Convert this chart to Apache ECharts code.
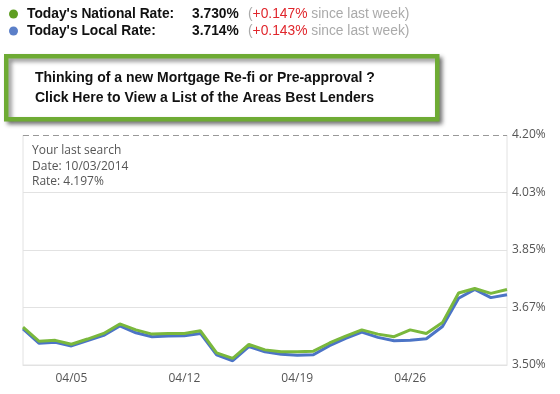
<!DOCTYPE html>
<html>
<head>
<meta charset="utf-8">
<script src="https://cdn.jsdelivr.net/npm/echarts@6/dist/echarts.min.js"></script>
<style>
html,body{margin:0;padding:0;background:#fff;}
#chart{width:560px;height:394px;}
</style>
</head>
<body>
<div id="chart"></div>
<script>
const dates = ['04/02','04/03','04/04','04/05','04/06','04/07','04/08','04/09','04/10','04/11','04/12','04/13','04/14','04/15','04/16','04/17','04/18','04/19','04/20','04/21','04/22','04/23','04/24','04/25','04/26','04/27','04/28','04/29','04/30','05/01','05/02'];
const nationalRate = [3.615,3.572,3.575,3.563,3.579,3.596,3.625,3.607,3.594,3.596,3.596,3.604,3.537,3.520,3.563,3.546,3.540,3.540,3.542,3.567,3.588,3.607,3.594,3.586,3.607,3.596,3.629,3.719,3.733,3.718,3.730];
const localRate = [3.610,3.566,3.569,3.558,3.574,3.590,3.619,3.598,3.586,3.588,3.589,3.596,3.531,3.513,3.556,3.540,3.533,3.530,3.531,3.559,3.581,3.600,3.584,3.574,3.575,3.580,3.617,3.703,3.730,3.705,3.714];
const yTickLabels = ['3.50%','3.67%','3.85%','4.03%','4.20%'];
const xTickLabels = ['04/05','04/12','04/19','04/26'];
const legendInfo = {
  national: {label: "Today's National Rate:", rate: '3.730%', change: '+0.147%'},
  local: {label: "Today's Local Rate:", rate: '3.714%', change: '+0.143%'}
};
const lastSearch = ['Your last search', 'Date: 10/03/2014', 'Rate: 4.197%'];
const bannerLines = ['Thinking of a new Mortgage Re-fi or Pre-approval ?', 'Click Here to View a List of the Areas Best Lenders'];

const Y_MIN = 3.5, Y_MAX = 4.2, Y_INT = 0.175;
const GREEN = '#7ab83c', BLUE = '#4c74c6';
const HF = 13.8;

const chart = echarts.init(document.getElementById('chart'), null, {renderer: 'canvas'});
chart.setOption({
  animation: false,
  backgroundColor: '#fff',
  legend: {
    orient: 'vertical',
    left: 4,
    top: 2,
    itemWidth: 9,
    itemHeight: 9,
    itemGap: 3,
    icon: 'circle',
    selectedMode: false,
    data: [
      {name: 'National', itemStyle: {color: '#5f9e22'}},
      {name: 'Local', itemStyle: {color: '#5b7fc8'}}
    ],
    formatter: function (name) {
      const info = name === 'National' ? legendInfo.national : legendInfo.local;
      return '{s|}{n|' + info.label + '}{v|' + info.rate + '}{p|(}{r|' + info.change + '}{p| since last week)}';
    },
    textStyle: {
      rich: {
        s: {width: 4},
        n: {width: 165, fontFamily: 'Liberation Sans', fontWeight: 'bold', fontSize: HF, color: '#111'},
        v: {width: 56, fontFamily: 'Liberation Sans', fontWeight: 'bold', fontSize: HF, color: '#111'},
        p: {fontFamily: 'Liberation Sans', fontSize: HF, color: '#aaa'},
        r: {fontFamily: 'Liberation Sans', fontSize: HF, color: '#e0262c'}
      }
    }
  },
  grid: {
    left: 23, right: 53, top: 135, bottom: 29,
    show: true, borderColor: '#e2e2e2', borderWidth: 1
  },
  xAxis: {
    type: 'category',
    data: dates,
    boundaryGap: false,
    axisLine: {show: true, lineStyle: {color: '#e2e2e2'}},
    axisTick: {show: false},
    axisLabel: {
      interval: function (i, v) { return xTickLabels.indexOf(v) >= 0; },
      color: '#555', fontFamily: 'Open Sans', fontSize: 12, margin: 8
    },
    splitLine: {show: false}
  },
  yAxis: {
    type: 'value',
    position: 'right',
    min: Y_MIN, max: Y_MAX, interval: Y_INT,
    axisLine: {show: false},
    axisTick: {show: false},
    axisLabel: {
      formatter: function (v) { return yTickLabels[Math.round((v - Y_MIN) / Y_INT)]; },
      color: '#555', fontFamily: 'Open Sans', fontSize: 12, margin: 5
    },
    splitLine: {show: true, lineStyle: {color: '#e2e2e2', width: 1}}
  },
  series: [
    {
      name: 'Local', type: 'line', data: localRate, symbol: 'none',
      lineStyle: {color: BLUE, width: 3}, itemStyle: {color: BLUE}, z: 3
    },
    {
      name: 'National', type: 'line', data: nationalRate, symbol: 'none',
      lineStyle: {color: GREEN, width: 3}, itemStyle: {color: GREEN}, z: 4,
      markLine: {
        silent: true, symbol: 'none', label: {show: false},
        data: [
          {yAxis: Y_MAX, lineStyle: {color: '#fff', type: 'solid', width: 2}},
          {yAxis: Y_MAX, lineStyle: {color: '#999', type: [6, 4], width: 1}}
        ]
      }
    }
  ],
  graphic: [
    {
      type: 'rect', left: 4, top: 54,
      shape: {x: 0, y: 0, width: 431, height: 63},
      style: {fill: '#fff', stroke: '#6eab34', lineWidth: 4.5,
        shadowBlur: 4, shadowOffsetX: 3, shadowOffsetY: 3, shadowColor: 'rgba(0,0,0,0.45)'},
      z: 10
    },
    {
      type: 'text', left: 35, top: 68, z: 11,
      style: {text: bannerLines.join('\n'), font: 'bold 14px "Liberation Sans"', fill: '#111', lineHeight: 20}
    },
    {
      type: 'text', left: 32, top: 143, z: 11,
      style: {text: lastSearch.join('\n'), font: '12px "Open Sans"', fill: '#555', lineHeight: 15.5}
    }
  ]
});
</script>
</body>
</html>
